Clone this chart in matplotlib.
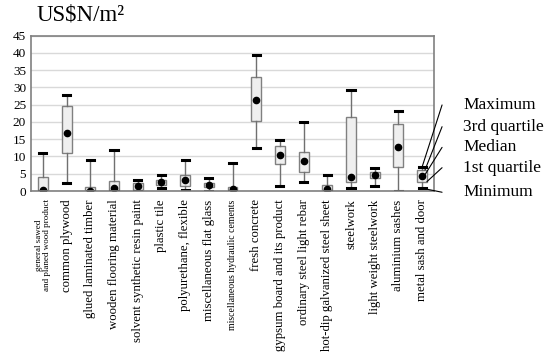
import numpy as np
import matplotlib.pyplot as plt

categories = [
    'general sawed\nand planed wood product', 'common plywood',
    'glued laminated timber', 'wooden flooring material',
    'solvent synthetic resin paint', 'plastic tile',
    'polyurethane, flexible', 'miscellaneous flat glass',
    'miscellaneous hydraulic cements', 'fresh concrete',
    'gypsum board and its product', 'ordinary steel light rebar',
    'hot-dip galvanized steel sheet', 'steelwork',
    'light weight steelwork', 'aluminium sashes', 'metal sash and door',
]
mins = [0.0, 2.2, 0.0, 0.0, 0.0, 0.8, 0.3, 0.1, 0.0, 12.4, 1.5, 2.7, 0.0, 1.0, 1.5, 0.0, 0.8]
q1s = [0.0, 11.0, 0.0, 0.0, 0.4, 1.6, 1.5, 1.2, 0.2, 20.3, 7.9, 5.4, 0.0, 2.5, 3.8, 7.0, 2.7]
medians = [0.2, 16.7, 0.1, 1.0, 1.5, 2.6, 3.3, 1.7, 0.6, 26.4, 10.4, 8.7, 0.5, 4.0, 4.5, 12.7, 4.3]
q3s = [4.0, 24.5, 1.1, 2.9, 2.3, 3.1, 4.6, 2.2, 1.2, 33.0, 13.0, 11.4, 1.7, 21.5, 5.4, 19.5, 6.1]
maxs = [11.0, 27.7, 8.9, 12.0, 3.1, 4.5, 8.9, 3.7, 8.2, 39.5, 14.8, 20.0, 4.6, 29.4, 6.7, 23.2, 7.0]

legend_labels = ['Maximum', '3rd quartile', 'Median', '1st quartile', 'Minimum']

plt.rcParams['font.family'] = ['Liberation Serif', 'DejaVu Serif']

fig = plt.figure(figsize=(5.5, 3.58), dpi=100)
ax = fig.add_axes([31 / 550, 1 - 191 / 358, 403 / 550, 155.3 / 358])

stats = []
for i in range(len(categories)):
    stats.append(dict(whislo=mins[i], q1=q1s[i], med=medians[i], q3=q3s[i],
                      whishi=maxs[i], mean=medians[i], fliers=[]))
positions = np.arange(1, len(categories) + 1)

ax.bxp(stats, positions=positions, widths=0.42, capwidths=0.3,
       patch_artist=True, showmeans=True, showfliers=False,
       boxprops=dict(facecolor='#efefef', edgecolor='#808080', linewidth=1),
       whiskerprops=dict(color='#707070', linewidth=1),
       capprops=dict(color='black', linewidth=2.2),
       medianprops=dict(visible=False),
       meanprops=dict(marker='o', markerfacecolor='black', markeredgecolor='black',
                      markersize=4.5))

ax.set_xlim(0.5, len(categories) + 0.5)
ax.set_ylim(0, 45)
ax.set_yticks(np.arange(0, 46, 5))
ax.set_axisbelow(True)
ax.grid(axis='y', color='#d9d9d9', linewidth=1)
for s in ax.spines.values():
    s.set_color('#808080')
    s.set_linewidth(1.2)
ax.tick_params(axis='both', length=0, labelsize=9.5)
ax.tick_params(axis='x', pad=6)
ax.set_xticks(positions)
ax.set_xticklabels(categories, rotation=90, fontsize=9.2)
small = {0: 6.5, 8: 7}
for i, lab in enumerate(ax.get_xticklabels()):
    if i in small:
        lab.set_fontsize(small[i])
        lab.set_linespacing(1.0)

fig.text(37 / 550, 1 - 15 / 358, 'US\\$N/m²', fontsize=16.5, va='center', ha='left')

# legend lines pointing at the last box
last = len(categories)
i = last - 1
targets = [(last, maxs[i]), (last + 0.12, q3s[i]), (last + 0.08, medians[i]),
           (last + 0.2, q1s[i]), (last, mins[i])]
text_y = [0.554, 0.414, 0.281, 0.150, -0.008]
for lab, (tx, ty), yf in zip(legend_labels, targets, text_y):
    ax.annotate('', xy=(tx, ty), xycoords='data', xytext=(1.02, yf),
                textcoords='axes fraction', annotation_clip=False,
                arrowprops=dict(arrowstyle='-', color='black', lw=0.8,
                                shrinkA=0, shrinkB=0))
    ax.text(1.072, yf, lab, transform=ax.transAxes, va='center', ha='left',
            fontsize=12.5, clip_on=False)

plt.savefig('out.png', dpi=100)
